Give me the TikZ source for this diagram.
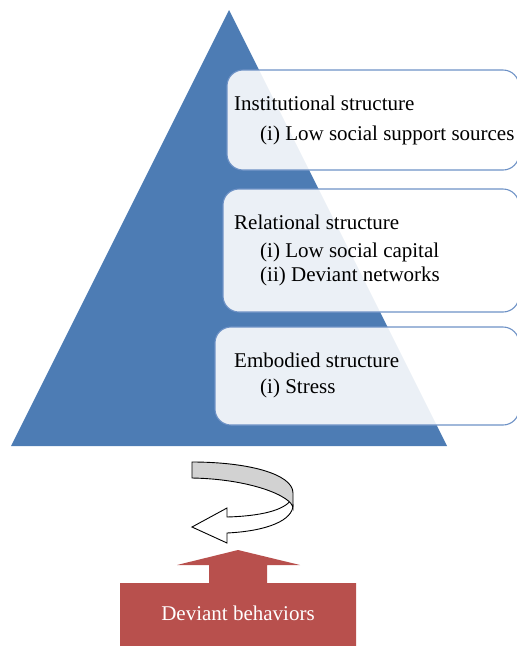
\documentclass[tikz,border=0pt]{standalone}
\usepackage{fontspec}
\setmainfont{Liberation Serif}
\definecolor{triblue}{RGB}{77,124,180}
\definecolor{boxline}{RGB}{110,146,198}
\definecolor{devred}{RGB}{184,80,77}
\definecolor{bandgray}{RGB}{210,210,210}
\tikzset{
  lvlbox/.style={draw=boxline, line width=1.1pt, fill=white, fill opacity=0.89, rounded corners=16pt},
  lbl/.style={anchor=base west, inner sep=0pt, font=\fontsize{21}{24}\selectfont},
}
\begin{document}
\begin{tikzpicture}[x=1pt,y=-1pt]
\useasboundingbox (0,0) rectangle (517,646);
\clip (0,0) rectangle (517,646);
% pyramid
\fill[triblue] (229,10) -- (447,446) -- (11,446) -- cycle;
\coordinate (apex) at (229,10);
% level boxes
\draw[lvlbox] (227,70) rectangle (519,170);
\draw[lvlbox] (223,189) rectangle (519,312);
\draw[lvlbox] (215,327) rectangle (519,425);
% texts
\node[lbl] (inst) at (234,110) {Institutional structure};
\node[lbl] (inst1) at (260,140) {(i) Low social support sources};
\node[lbl] (rel) at (234,229) {Relational structure};
\node[lbl] (rel1) at (260,257) {(i) Low social capital};
\node[lbl] (rel2) at (260,281) {(ii) Deviant networks};
\node[lbl] (emb) at (234,367) {Embodied structure};
\node[lbl] (emb1) at (260,393) {(i) Stress};
% curved arrow
\draw[fill=white, line width=0.9pt, line join=miter]
  (291,500) .. controls (284,510) and (262,516) .. (227,517)
  -- (227,508) -- (192,527) -- (227,543) -- (227,533)
  .. controls (268,531) and (293,520) .. (293,505) -- cycle;
\draw[fill=bandgray, line width=0.9pt]
  (192,462) .. controls (248,462) and (293,474) .. (293,493)
  -- (293,508) .. controls (292,496) and (250,479) .. (192,478) -- cycle;
% deviant behaviors
\fill[devred] (120,583) -- (209,583) -- (209,565) -- (177,565) -- (238,550)
  -- (300,565) -- (267,565) -- (267,583) -- (356,583) -- (356,650) -- (120,650) -- cycle;
\node[lbl, anchor=base, text=white] (dev) at (238,620) {Deviant behaviors};
\end{tikzpicture}
\end{document}
